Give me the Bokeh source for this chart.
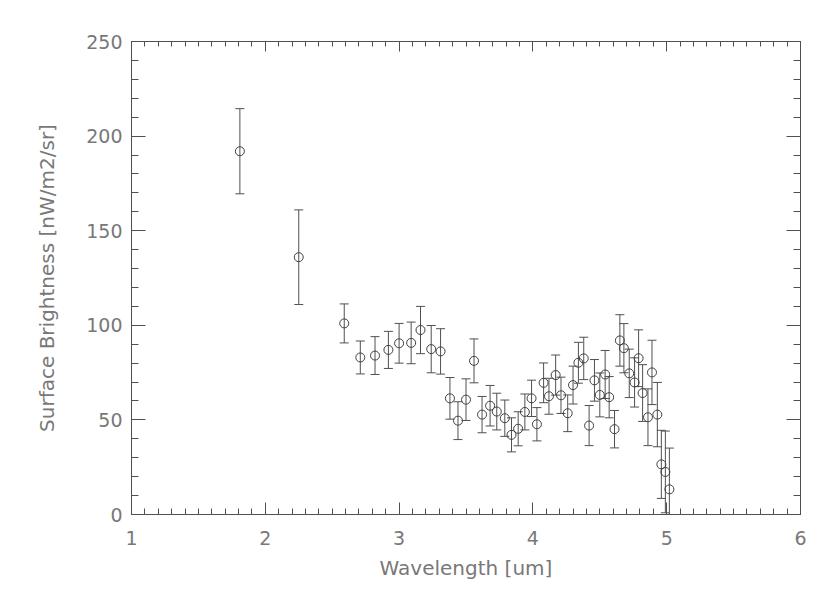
from bokeh.plotting import figure
from bokeh.models import LinearAxis, SingleIntervalTicker, Range1d, ColumnDataSource
from bokeh.embed import file_html
from bokeh.resources import INLINE

# Data
wavelength = [1.81, 2.25, 2.59, 2.71, 2.82, 2.92, 3.00, 3.09, 3.16, 3.24,
              3.31, 3.38, 3.44, 3.50, 3.56, 3.62, 3.68, 3.73, 3.79, 3.84,
              3.89, 3.94, 3.99, 4.03, 4.08, 4.12, 4.17, 4.21, 4.26, 4.30,
              4.34, 4.38, 4.42, 4.46, 4.50, 4.54, 4.57, 4.61, 4.65, 4.68,
              4.72, 4.76, 4.79, 4.82, 4.86, 4.89, 4.93, 4.96, 4.99, 5.02]
brightness = [192, 136, 101, 83, 84, 87, 90.5, 90.7, 97.5, 87.4,
              86.2, 61.4, 49.6, 60.7, 81.2, 52.8, 57.5, 54.4, 50.9, 42.1,
              45.3, 54.2, 61.4, 47.7, 69.6, 62.5, 73.7, 63.0, 53.5, 68.4,
              80.2, 82.5, 47.0, 70.9, 63.2, 74.0, 62.0, 45.1, 92.0, 87.9,
              74.6, 69.8, 82.6, 64.2, 51.4, 75.1, 52.8, 26.5, 22.5, 13.3]
error = [22.5, 25, 10.3, 8.7, 10, 9.8, 10.5, 11, 12.5, 12.5,
         12, 11, 10, 11, 11.6, 9.6, 10.7, 9.7, 9.6, 9,
         9, 9.5, 9.6, 8.8, 10.5, 9.5, 10.6, 9.6, 9.7, 10,
         10.8, 11.2, 10.6, 11, 11.6, 12.7, 10.9, 9.9, 13.6, 13,
         12.8, 13, 15, 15, 15, 17, 17, 18, 21.6, 21.8]

x_title = "Wavelength [um]"
y_title = "Surface Brightness [nW/m2/sr]"

lower = [b - e for b, e in zip(brightness, error)]
upper = [b + e for b, e in zip(brightness, error)]
src = ColumnDataSource(dict(x=wavelength, y=brightness, lo=lower, hi=upper))

LINE = "#505050"
TEXT = "#787878"
FONT = "DejaVu Sans"

p = figure(width=824, height=584, output_backend="svg", toolbar_location=None,
           x_range=Range1d(1, 6), y_range=Range1d(0, 250),
           min_border_left=131, min_border_right=24, min_border_top=41,
           min_border_bottom=70, x_axis_location=None, y_axis_location=None)
p.grid.visible = False
p.outline_line_color = LINE
p.outline_line_width = 1
p.background_fill_color = "white"
p.border_fill_color = "white"

def style(ax, labels=True):
    ax.axis_line_color = LINE
    ax.major_tick_line_color = LINE
    ax.minor_tick_line_color = LINE
    ax.major_tick_out = 0
    ax.minor_tick_out = 0
    ax.major_label_text_color = TEXT
    ax.major_label_text_font = FONT
    ax.major_label_text_font_size = "19px"
    ax.axis_label_text_color = TEXT
    ax.axis_label_text_font = FONT
    ax.axis_label_text_font_size = "20px"
    ax.axis_label_text_font_style = "normal"
    if not labels:
        ax.major_label_text_font_size = "0px"
        ax.major_label_text_alpha = 0

xb = LinearAxis(ticker=SingleIntervalTicker(interval=1, num_minor_ticks=10), axis_label=x_title)
style(xb)
xb.major_tick_in = 12
xb.minor_tick_in = 6
xb.major_label_standoff = 16
xb.axis_label_standoff = 8
p.add_layout(xb, "below")

xt = LinearAxis(ticker=SingleIntervalTicker(interval=1, num_minor_ticks=10))
style(xt, labels=False)
xt.major_tick_in = 10
xt.minor_tick_in = 5
p.add_layout(xt, "above")

yl = LinearAxis(ticker=SingleIntervalTicker(interval=50, num_minor_ticks=5), axis_label=y_title)
style(yl)
yl.major_tick_in = 14
yl.minor_tick_in = 7
yl.major_label_standoff = 9
yl.axis_label_standoff = 24
p.add_layout(yl, "left")

yr = LinearAxis(ticker=SingleIntervalTicker(interval=50, num_minor_ticks=5))
style(yr, labels=False)
yr.major_tick_in = 14
yr.minor_tick_in = 7
p.add_layout(yr, "right")

# error bars
p.segment(x0="x", y0="lo", x1="x", y1="hi", source=src, line_color=LINE, line_width=1)
p.scatter(x="x", y="hi", source=src, marker="dash", size=9, line_color=LINE, line_width=1)
p.scatter(x="x", y="lo", source=src, marker="dash", size=9, line_color=LINE, line_width=1)
# points
p.scatter(x="x", y="y", source=src, marker="circle", size=9, fill_color="white",
          fill_alpha=0, line_color="#404040", line_width=1)

open("out.html", "w").write(file_html(p, INLINE))
